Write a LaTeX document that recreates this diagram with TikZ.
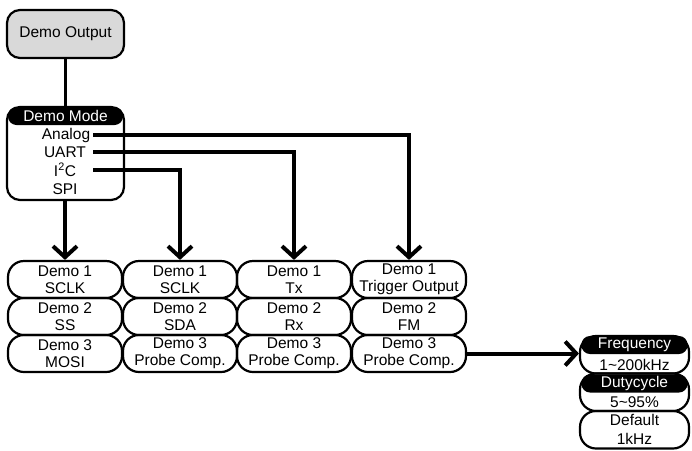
\documentclass[tikz,border=0pt]{standalone}
\usepackage{fontspec}
\setmainfont{Liberation Sans}
\usetikzlibrary{arrows.meta}
\begin{document}
\begin{tikzpicture}[x=1pt,y=-1pt,
  every node/.style={font=\fontsize{15.5}{17}\selectfont},
  pill/.style={draw=black, line width=2.2pt, rounded corners=16pt, minimum width=114pt, minimum height=37pt, inner sep=0pt, align=center},
  rpill/.style={draw=black, line width=2.2pt, rounded corners=16pt, minimum width=109pt, minimum height=37.5pt, inner sep=0pt, align=center},
  hdr/.style={fill=black, text=white, rounded corners=8.5pt, inner sep=0pt, minimum height=18pt},
  box/.style={draw=black, line width=2.2pt, rounded corners=13pt, minimum width=117pt, inner sep=0pt},
  conn/.style={line width=4pt},
  arr/.style={conn, -{Straight Barb[length=11pt,width=24pt]}},
]
\useasboundingbox (0,0) rectangle (692,450);

% top boxes
\node[box, fill=gray!30, minimum height=48pt] (out) at (65.5,34) {Demo Output};
\node[box, minimum height=93pt] (mode) at (65.5,153.5) {};
\node[hdr, minimum width=115pt] (modeh) at (65.5,116) {Demo Mode};
\node[anchor=base] (analog) at (66,139.5) {Analog};
\node[anchor=base] (uart) at (65,157) {UART};
\node[anchor=base] (itwoc) at (65,176) {I\textsuperscript{2}C};
\node[anchor=base] (spi) at (65,194) {SPI};

% demo grid
\node[pill] (d11) at (65,279.5) {Demo 1\\SCLK};
\node[pill] (d12) at (65,316.5) {Demo 2\\SS};
\node[pill] (d13) at (65,353.5) {Demo 3\\MOSI};
\node[pill] (d21) at (180,279.5) {Demo 1\\SCLK};
\node[pill] (d22) at (180,316.5) {Demo 2\\SDA};
\node[pill] (d23) at (180,353.5) {Demo 3\\Probe Comp.};
\node[pill] (d31) at (294,279.5) {Demo 1\\Tx};
\node[pill] (d32) at (294,316.5) {Demo 2\\Rx};
\node[pill] (d33) at (294,353.5) {Demo 3\\Probe Comp.};
\node[pill] (d41) at (409,279.5) {Demo 1\\Trigger Output};
\node[pill] (d42) at (409,316.5) {Demo 2\\FM};
\node[pill] (d43) at (409,353.5) {Demo 3\\Probe Comp.};

% right column
\node[rpill] (freq) at (634.5,354.75) {};
\node[hdr, minimum width=106pt] (freqh) at (634.5,345) {Frequency};
\node (freqv) at (634.5,364.5) {1\textasciitilde 200kHz};
\node[rpill] (duty) at (634.5,392.25) {};
\node[hdr, minimum width=106pt] (dutyh) at (634.5,383.5) {Dutycycle};
\node (dutyv) at (634.5,402.6) {5\textasciitilde 95\%};
\node[rpill, font=\fontsize{15.5}{19}\selectfont] (def) at (634.5,429.75) {Default\\1kHz};

% connectors
\coordinate (lx) at (93,0);
\draw[line width=3pt] (out.south) -- (out.south |- mode.north);
\draw[arr] (d11.north |- mode.south) -- (d11.north);
\draw[arr] (lx |- itwoc) -| (d21.north);
\draw[arr] (lx |- uart) -| (d31.north);
\draw[arr] (lx |- analog) -| (d41.north);
\draw[arr] (d43.east) -- (d43.east -| freq.west);
\end{tikzpicture}
\end{document}
